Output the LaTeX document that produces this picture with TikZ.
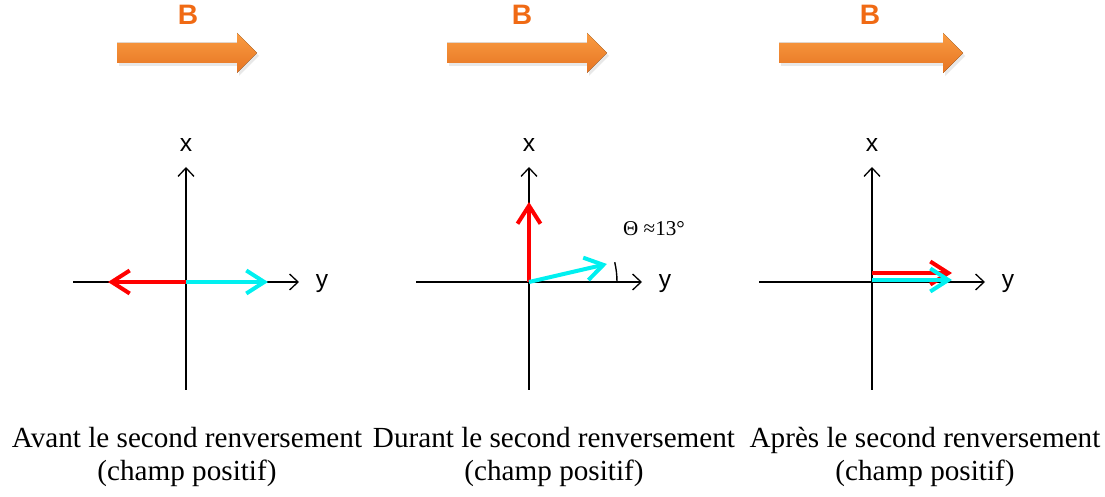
\documentclass[tikz,border=0pt]{standalone}
\usepackage{fontspec}
\setmainfont{Liberation Serif}
\setsansfont{Liberation Sans}
\usetikzlibrary{arrows.meta, shadows}
\definecolor{fieldTop}{RGB}{250,156,66}
\definecolor{fieldBot}{RGB}{230,116,34}
\definecolor{fieldText}{RGB}{240,106,20}
\definecolor{spinRed}{RGB}{255,0,0}
\definecolor{spinCyan}{RGB}{0,240,240}
\tikzset{
  axis/.style={-{Straight Barb[length=1.7mm,width=3.2mm]}, line width=0.26mm, black},
  axlabel/.style={font=\sffamily\fontsize{14}{16}\selectfont, inner sep=0pt},
  spin/.style={-{Straight Barb[length=3.6mm,width=4.6mm]}, line width=0.8mm},
  field/.style={top color=fieldTop, bottom color=fieldBot,
                drop shadow={opacity=0.18, shadow xshift=0.4mm, shadow yshift=-0.6mm}},
  fieldlab/.style={font=\sffamily\bfseries\fontsize{16}{18}\selectfont, text=fieldText, inner sep=0pt},
  caption/.style={align=center, font=\fontsize{16.6}{19}\selectfont, inner sep=0pt},
  anglab/.style={font=\fontsize{12}{14}\selectfont, inner sep=0pt},
}
% #1 name, #2 left end, #3 tip, #4 label position
\newcommand{\fieldarrow}[4]{%
  \fill[field] (#2,434) -- ({#3-20},434) -- ({#3-20},424) -- (#3,444)
    -- ({#3-20},464) -- ({#3-20},454) -- (#2,454) -- cycle;
  \node[fieldlab] (#1) at (#4,482) {B};
}
% axes of one panel, drawn round the scope origin
\newcommand{\axisframe}[1]{%
  \coordinate (#1o) at (0,0);
  \coordinate (#1l) at (-113,0);
  \coordinate (#1r) at (113,0);
  \coordinate (#1b) at (0,-108);
  \coordinate (#1t) at (0,115);
  \draw[axis] (#1l) -- (#1r);
  \draw[axis] (#1b) -- (#1t);
  \node[axlabel] (#1x) at (0,137) {x};
  \node[axlabel] (#1y) at (136,-2) {y};
}

\begin{document}
\begin{tikzpicture}[x=0.2mm, y=0.2mm]
    \useasboundingbox (0,0) rectangle (1105,497);
    \fieldarrow{Ba}{117}{257}{188}
    \fieldarrow{Bb}{447}{607}{522}
    \fieldarrow{Bc}{779}{963}{870}

    % avant
    \begin{scope}[shift={(186,215)}]
      \axisframe{a}
      \coordinate (aRed) at (-78,0);
      \coordinate (aCyan) at (82,0);
      \draw[spin, spinRed] (ao) -- (aRed);
      \draw[spin, spinCyan] (ao) -- (aCyan);
    \end{scope}

    % durant
    \begin{scope}[shift={(529,215)}]
      \axisframe{b}
      \coordinate (bRed) at (0,80);
      \coordinate (bCyan) at (13:80);
      \coordinate (bArc) at (88,0);
      \draw[spin, spinRed] (bo) -- (bRed);
      \draw[spin, spinCyan] (bo) -- (bCyan);
      \draw[line width=0.28mm] (bArc) arc[start angle=0, end angle=13, radius=88];
      \node[anglab] (theta) at (125,53) {Θ ≈13°};
    \end{scope}

    % apres
    \begin{scope}[shift={(872,215)}]
      \axisframe{c}
      \coordinate (cRs) at (0,9);
      \coordinate (cRe) at (80,9);
      \coordinate (cCs) at (0,2);
      \coordinate (cCe) at (80,2);
      \draw[spin, spinRed] (cRs) -- (cRe);
      \draw[spin, spinCyan] (cCs) -- (cCe);
    \end{scope}

    \node[caption] (capA) at (187,40) {Avant le second renversement\\(champ positif)};
    \node[caption] (capB) at (554,40) {Durant le second renversement\\(champ positif)};
    \node[caption] (capC) at (925,40) {Après le second renversement\\(champ positif)};
  \end{tikzpicture}
\end{document}
